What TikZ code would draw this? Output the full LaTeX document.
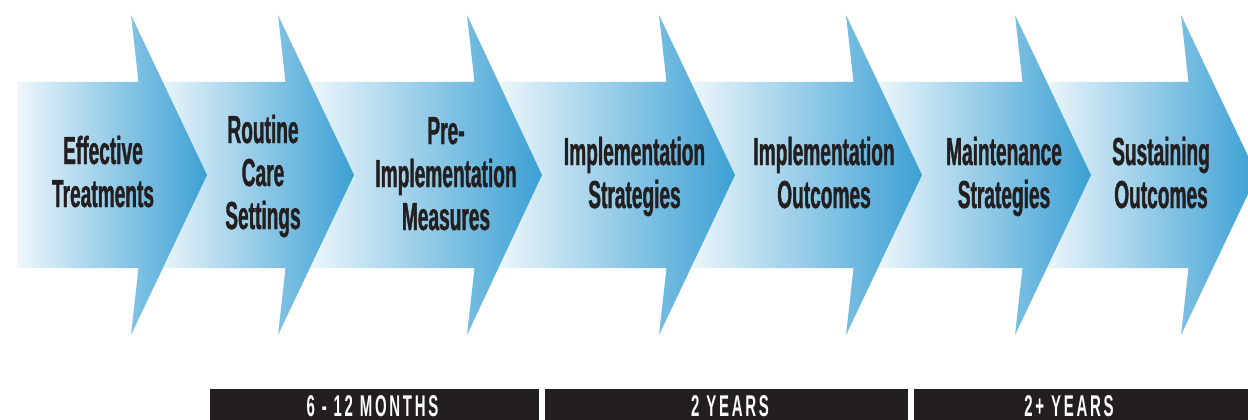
\documentclass[tikz,border=0pt]{standalone}
\usepackage{fontspec}
\newfontfamily\arrowfont{Liberation Sans}[FakeStretch=0.49,FakeBold=1]
\newfontfamily\barfont{Liberation Sans}[FakeStretch=0.5,LetterSpace=9]
\definecolor{arrowblue}{RGB}{60,160,212}
\definecolor{inkblack}{RGB}{35,31,32}

\begin{document}
\begin{tikzpicture}[x=1pt,y=-1pt,
  steplabel/.style={font=\arrowfont\bfseries\fontsize{39}{43}\selectfont,
    text=inkblack, align=center, anchor=base, inner sep=0pt},
  barbox/.style={fill=inkblack, draw=none, inner sep=0pt, anchor=north,
    minimum height=45pt},
  periodtext/.style={font=\barfont\bfseries\fontsize{30}{30}\selectfont,
    text=white, anchor=base, inner sep=0pt}]
\clip (0,0) rectangle (1248,420);
\fill[white] (0,0) rectangle (1248,420);

% chevron arrows, drawn right to left so every head lies over the next band
\foreach \g/\s/\h/\t in {1023/1023/1181/1257, 854/854/1015/1091,
    667/667/846/922, 474/474/659/735, 286/286/467/542,
    138/138/278/354, 0/17/131/207}{
  \begin{scope}
    \clip (\s,82) -- (\h+7.5,82) -- (\h,15) -- (\t,175) -- (\h,335)
      -- (\h+7.5,268) -- (\s,268) -- cycle;
    \shade[left color=white, right color=arrowblue] (\g,10) rectangle (\t,340);
  \end{scope}
}

% step labels (placed by the baseline of their last line)
\node[steplabel] (t1) at (103,207) {Effective\\Treatments};
\node[steplabel] (t2) at (263,229) {Routine\\Care\\Settings};
\node[steplabel] (t3) at (446,230) {Pre-\\Implementation\\Measures};
\node[steplabel] (t4) at (634.5,208) {Implementation\\Strategies};
\node[steplabel] (t5) at (824,208) {Implementation\\Outcomes};
\node[steplabel] (t6) at (1004,208) {Maintenance\\Strategies};
\node[steplabel] (t7) at (1161,208) {Sustaining\\Outcomes};

% time bars
\node[barbox, minimum width=329pt] (b1) at (374.5,389) {};
\node[barbox, minimum width=363pt] (b2) at (726.5,389) {};
\node[barbox, minimum width=346pt] (b3) at (1087,389) {};
\node[periodtext] (p1) at (372.5,416) {6 - 12 MONTHS};
\node[periodtext] (p2) at (730,416) {2 YEARS};
\node[periodtext] (p3) at (1069,416) {2+ YEARS};
\end{tikzpicture}
\end{document}
